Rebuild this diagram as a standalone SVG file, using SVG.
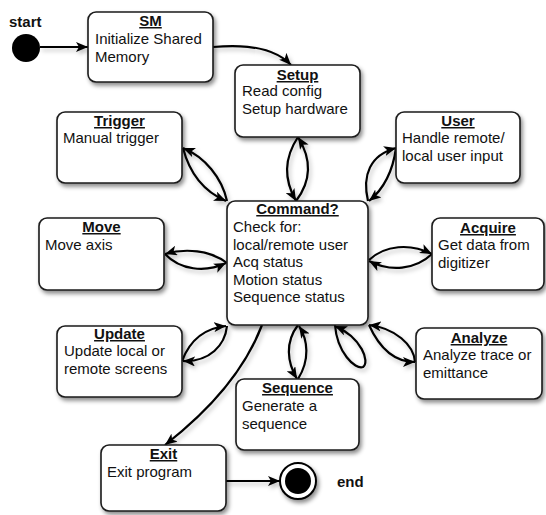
<svg xmlns="http://www.w3.org/2000/svg" width="546" height="515" viewBox="0 0 546 515">
<style>
.box{fill:#fff;stroke:#1a1a1a;stroke-width:1.6}
.t{font-family:"Liberation Sans",Arial,sans-serif;font-size:15px;fill:#111}
.h{font-weight:bold;text-decoration:underline;text-anchor:middle}
.b{font-weight:bold}
.c{fill:none;stroke:#000;stroke-width:2.2}
</style>
<defs>
<filter id="sh" x="-20%" y="-20%" width="150%" height="150%">
<feDropShadow dx="2" dy="3" stdDeviation="2.2" flood-color="#000" flood-opacity="0.45"/>
</filter>
<filter id="sh2" x="-20%" y="-20%" width="150%" height="150%">
<feDropShadow dx="2" dy="3" stdDeviation="2" flood-color="#000" flood-opacity="0.25"/>
</filter>
<marker id="a" markerUnits="userSpaceOnUse" markerWidth="13" markerHeight="10" refX="12" refY="5" orient="auto">
<path d="M0,0 L12,5 L0,10 L3,5 z" fill="#000"/>
</marker>
</defs>

<g id="connectors" filter="url(#sh2)">
<path class="c" d="M40,47 L88,47" marker-end="url(#a)"/>
<path class="c" d="M213,47 C245,44 275,48 291,65" marker-end="url(#a)"/>
<path class="c" d="M298,137 C284,158 284,180 296,201" marker-end="url(#a)"/>
<path class="c" d="M296,201 C312,180 311,158 298,137" marker-end="url(#a)"/>
<path class="c" d="M368,201 C362,175 370,155 396,148" marker-end="url(#a)"/>
<path class="c" d="M396,148 C393,170 385,188 369,201" marker-end="url(#a)"/>
<path class="c" d="M227,201 C222,178 205,157 183,148" marker-end="url(#a)"/>
<path class="c" d="M183,148 C190,175 205,192 226,201" marker-end="url(#a)"/>
<path class="c" d="M227,263 C210,250 185,248 165,254" marker-end="url(#a)"/>
<path class="c" d="M165,254 C180,270 205,273 226,263" marker-end="url(#a)"/>
<path class="c" d="M369,260 C385,245 410,243 432,254" marker-end="url(#a)"/>
<path class="c" d="M432,254 C415,270 390,272 369,261" marker-end="url(#a)"/>
<path class="c" d="M415,362 C414,345 395,328 369,325" marker-end="url(#a)"/>
<path class="c" d="M369,325 C378,345 392,362 415,362" marker-end="url(#a)"/>
<path class="c" d="M182,361 C190,340 205,328 226,326" marker-end="url(#a)"/>
<path class="c" d="M227,326 C225,345 210,362 183,361" marker-end="url(#a)"/>
<path class="c" d="M298,379 C310,360 308,340 299,326" marker-end="url(#a)"/>
<path class="c" d="M298,325 C285,342 287,362 297,379" marker-end="url(#a)"/>
<path class="c" d="M335,325 C337,352 355,370 363,367 C370,362 362,338 335,326" marker-end="url(#a)"/>
<path class="c" d="M262,325 C245,370 210,410 165,445" marker-end="url(#a)"/>
<path class="c" d="M226,481 L280,481" marker-end="url(#a)"/>
</g>

<g id="start">
<circle cx="26" cy="48" r="14" fill="#000"/>
<text class="t b" x="9" y="27">start</text>
</g>

<g id="end">
<circle cx="298" cy="481" r="18" fill="#fff" stroke="#000" stroke-width="2" filter="url(#sh)"/>
<circle cx="298" cy="481" r="13" fill="#000"/>
<text class="t b" x="337" y="487">end</text>
</g>

<g id="SM">
<rect class="box" x="88" y="12" width="125" height="70" rx="8" filter="url(#sh)"/>
<text class="t h" x="150.5" y="26">SM</text>
<text class="t" x="95" y="44">Initialize Shared</text>
<text class="t" x="95" y="62">Memory</text>
</g>

<g id="Setup">
<rect class="box" x="235" y="65" width="125" height="72" rx="8" filter="url(#sh)"/>
<text class="t h" x="297.5" y="80">Setup</text>
<text class="t" x="242" y="96">Read config</text>
<text class="t" x="242" y="114">Setup hardware</text>
</g>

<g id="User">
<rect class="box" x="396" y="112" width="124" height="71" rx="8" filter="url(#sh)"/>
<text class="t h" x="458" y="126">User</text>
<text class="t" x="402" y="143">Handle remote/</text>
<text class="t" x="402" y="161">local user input</text>
</g>

<g id="Trigger">
<rect class="box" x="57" y="112" width="125" height="71" rx="8" filter="url(#sh)"/>
<text class="t h" x="119.5" y="126">Trigger</text>
<text class="t" x="63" y="143">Manual trigger</text>
</g>

<g id="Move">
<rect class="box" x="39" y="218" width="125" height="72" rx="8" filter="url(#sh)"/>
<text class="t h" x="101.5" y="232">Move</text>
<text class="t" x="45" y="250">Move axis</text>
</g>

<g id="Command">
<rect class="box" x="227" y="201" width="141" height="124" rx="8" filter="url(#sh)"/>
<text class="t h" x="297.5" y="214">Command?</text>
<text class="t" x="233" y="232">Check for:</text>
<text class="t" x="233" y="249.5">local/remote user</text>
<text class="t" x="233" y="267">Acq status</text>
<text class="t" x="233" y="284.5">Motion status</text>
<text class="t" x="233" y="302">Sequence status</text>
</g>

<g id="Acquire">
<rect class="box" x="432" y="218" width="112" height="72" rx="8" filter="url(#sh)"/>
<text class="t h" x="488" y="233">Acquire</text>
<text class="t" x="438" y="250">Get data from</text>
<text class="t" x="438" y="268">digitizer</text>
</g>

<g id="Analyze">
<rect class="box" x="416" y="328" width="126" height="71" rx="8" filter="url(#sh)"/>
<text class="t h" x="479" y="343">Analyze</text>
<text class="t" x="423" y="360">Analyze trace or</text>
<text class="t" x="423" y="378">emittance</text>
</g>

<g id="Update">
<rect class="box" x="57" y="326" width="125" height="71" rx="8" filter="url(#sh)"/>
<text class="t h" x="119.5" y="339">Update</text>
<text class="t" x="64" y="356">Update local or</text>
<text class="t" x="64" y="374">remote screens</text>
</g>

<g id="Sequence">
<rect class="box" x="236" y="379" width="123" height="71" rx="8" filter="url(#sh)"/>
<text class="t h" x="297.5" y="393">Sequence</text>
<text class="t" x="242" y="411">Generate a</text>
<text class="t" x="242" y="429">sequence</text>
</g>

<g id="Exit">
<rect class="box" x="101" y="445" width="125" height="66" rx="8" filter="url(#sh)"/>
<text class="t h" x="163.5" y="459">Exit</text>
<text class="t" x="107" y="477">Exit program</text>
</g>
</svg>
